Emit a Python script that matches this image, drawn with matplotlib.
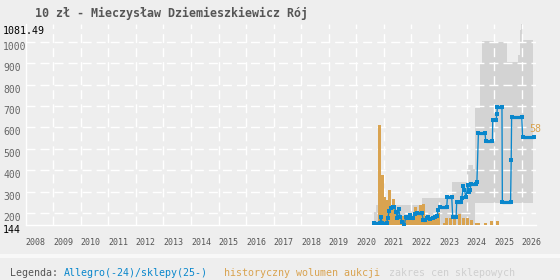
import numpy as np
import matplotlib.pyplot as plt
from matplotlib import transforms
from matplotlib.patches import Rectangle

title = "10 zł - Mieczysław Dziemieszkiewicz Rój"
years = list(range(2008, 2027))
y_ticks = [200, 300, 400, 500, 600, 700, 800, 900, 1000]
y_min, y_max = 144, 1081.49

# zakres cen sklepowych (schodkowo)
band_x  = [2020.64, 2020.73, 2022.38, 2023.46, 2024.00, 2024.25, 2024.31, 2024.49, 2024.55,
           2025.03, 2025.46, 2025.88, 2025.93, 2025.97, 2026.01, 2026.40]
band_lo = [144, 144, 144, 144, 144, 144, 246, 246, 246, 246, 246, 246, 246, 246, 246, 246]
band_hi = [207, 239, 270, 347, 425, 405, 690, 899, 1005, 998, 907, 940, 1054, 1081.49, 1008, 1008]

# wolumen aukcji
vol_x = [2020.715, 2020.831, 2020.940, 2021.031, 2021.103, 2021.194, 2021.285, 2021.357,
         2021.430, 2021.513, 2021.604, 2021.695, 2021.786, 2021.877, 2021.967, 2022.058,
         2022.160, 2022.247, 2022.330, 2022.421, 2022.512, 2022.603, 2022.693, 2022.784,
         2022.875, 2022.984, 2023.201, 2023.274, 2023.401, 2023.546, 2023.728, 2023.873,
         2024.018, 2024.163, 2024.363, 2024.435, 2024.690, 2024.907, 2025.125]
vol_top = [158, 611, 380, 277, 264, 309, 224, 266,
           208, 190, 180, 188, 175, 192, 182, 178,
           231, 205, 240, 243, 180, 178, 176, 180,
           178, 200, 156, 176, 178, 178, 197, 178,
           178, 168, 156, 156, 156, 165, 165]
vol_last = 58

# Allegro / sklepy
price_x = [2020.655, 2020.860, 2020.884, 2020.945, 2021.102, 2021.138, 2021.199, 2021.259,
           2021.320, 2021.380, 2021.441, 2021.489, 2021.538, 2021.586, 2021.671, 2021.744,
           2021.792, 2021.865, 2021.949, 2022.010, 2022.070, 2022.131, 2022.191, 2022.373,
           2022.433, 2022.494, 2022.554, 2022.614, 2022.675, 2022.772, 2022.857, 2022.917,
           2022.977, 2023.038, 2023.280, 2023.304, 2023.462, 2023.498, 2023.619, 2023.643,
           2023.788, 2023.825, 2023.885, 2023.921, 2023.982, 2024.042, 2024.079, 2024.127,
           2024.163, 2024.360, 2024.375, 2024.430, 2024.670, 2024.697, 2024.937, 2024.950,
           2025.071, 2025.100, 2025.120, 2025.285, 2025.299, 2025.597, 2025.620, 2025.635,
           2026.004, 2026.033, 2026.450]
price_y = [156, 156, 181, 156, 156, 177, 212, 223,
           231, 231, 208, 177, 220, 184, 161, 146,
           184, 177, 192, 177, 177, 197, 200, 200,
           169, 169, 177, 184, 175, 177, 184, 187,
           215, 228, 228, 275, 275, 181, 181, 254,
           254, 270, 327, 309, 275, 332, 301, 309,
           337, 337, 346, 573, 573, 535, 535, 635,
           635, 663, 697, 697, 251, 251, 448, 647,
           647, 557, 557]

bg = '#eeeeee'
blue = '#0a87cc'
orange = '#d9a350'
gray = '#d3d3d3'
mono = 'DejaVu Sans Mono'

fig = plt.figure(figsize=(5.6, 2.8), dpi=100, facecolor=bg)
ax = fig.add_axes([25.7 / 560, 1 - 225.3 / 280, 510.3 / 560, 201.1 / 280])
ax.set_facecolor(bg)
ax.set_xlim(2008, 2026.52)
ax.set_ylim(y_min, y_max)

ax.fill_between(band_x, band_lo, band_hi, step='post', color=gray, lw=0, zorder=1)

ax.bar(vol_x, np.array(vol_top) - y_min, bottom=y_min, width=0.105,
       color=orange, lw=0, zorder=3)

ax.plot(price_x, price_y, color=blue, lw=0.95, zorder=4)
for i in range(len(price_x) - 1):
    if price_y[i] == price_y[i + 1]:
        ax.plot(price_x[i:i + 2], price_y[i:i + 2], color=blue, lw=2.3,
                solid_capstyle='butt', zorder=4)
ax.plot(price_x, price_y, 's', ms=2.5, mew=0, color=blue, zorder=5)

ax.text(2026.28, 593, str(vol_last), color=orange, fontsize=7.2, family=mono,
        ha='left', va='center', zorder=6, clip_on=False)

# siatka
ax.set_xticks(years[1:])
ax.set_yticks(y_ticks)
ax.tick_params(length=0, labelbottom=False, labelleft=False)
ax.set_axisbelow(False)
ax.grid(True, color='white', lw=1, linestyle=(0, (6.5, 3.6)))
for s in ['top', 'right']:
    ax.spines[s].set_visible(False)
for s in ['left', 'bottom']:
    ax.spines[s].set_color('white')
    ax.spines[s].set_linewidth(1)

# opisy osi
ytr = transforms.blended_transform_factory(fig.transFigure, ax.transData)
for v in y_ticks:
    ax.text(3 / 560, v, str(v), transform=ytr, ha='left', va='top',
            fontsize=7, color='#666666', family=mono)
ax.text(3 / 560, y_min, '144', transform=ytr, ha='left', va='top',
        fontsize=7.2, color='black', family=mono)
ax.text(3 / 560, 1 - 26 / 280, '1081.49', transform=fig.transFigure, ha='left', va='top',
        fontsize=7.2, color='black', family=mono)

xtr = transforms.blended_transform_factory(ax.transData, fig.transFigure)
for yr in years:
    ax.text(yr, 1 - 242.5 / 280, str(yr), transform=xtr, ha='left', va='center',
            fontsize=6, color='#555555', family=mono, clip_on=False)

fig.text(34.6 / 560, 1 - 13.2 / 280, title, fontsize=8.4, fontweight='bold',
         color='#555555', family=mono, va='center', ha='left')

# legenda
fig.patches.append(Rectangle((0, 1 - 258 / 280), 1, 4 / 280, transform=fig.transFigure,
                             color='#f8f8f8', lw=0))
ly = 1 - 273 / 280
fig.text(9.6 / 560, ly, 'Legenda:', fontsize=7.2, color='#555555', family=mono, va='center')
fig.text(64 / 560, ly, 'Allegro(-24)/sklepy(25-)', fontsize=7.2, color=blue, family=mono, va='center')
fig.text(224 / 560, ly, 'historyczny wolumen aukcji', fontsize=7.2, color=orange, family=mono, va='center')
fig.text(389 / 560, ly, 'zakres cen sklepowych', fontsize=7.2, color='#cfcfcf', family=mono, va='center')

fig.savefig('out.png', dpi=100, facecolor=bg)
